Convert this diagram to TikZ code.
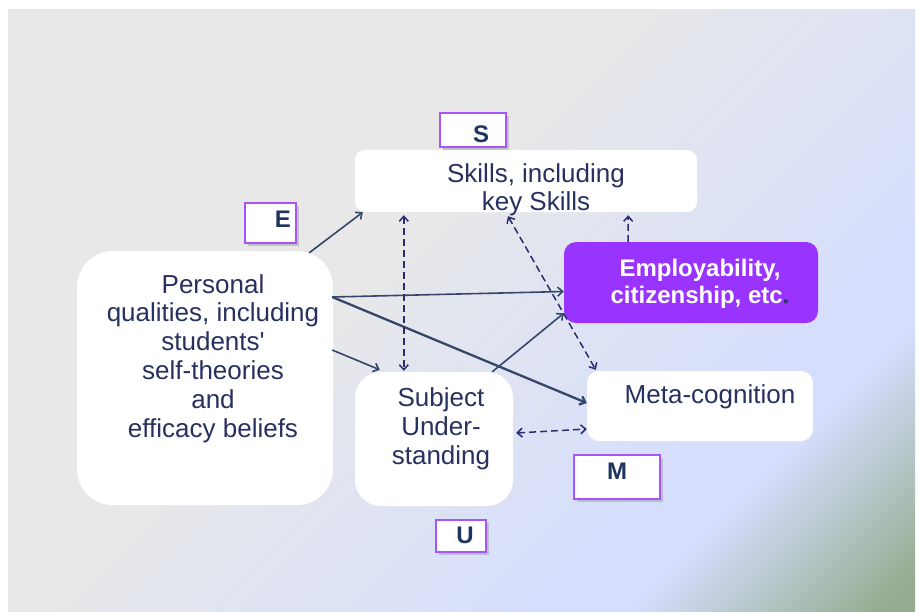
\documentclass[tikz,border=0pt]{standalone}
\usepackage{fontspec}
\setmainfont{Liberation Sans}
\usetikzlibrary{arrows.meta,shadows}
\definecolor{bgA}{HTML}{E8E8E9}
\definecolor{bgB}{HTML}{D5DEFD}
\definecolor{bgC}{HTML}{96AB90}
\definecolor{txt}{HTML}{283060}
\definecolor{lblt}{HTML}{1F3560}
\definecolor{arrc}{HTML}{34476A}
\definecolor{dsh}{HTML}{2A2C6E}
\definecolor{purp}{HTML}{9933FF}
\definecolor{lblb}{HTML}{A855F7}
\pgfdeclarehorizontalshading{bgsh}{100bp}{color(0bp)=(bgA); color(44bp)=(bgA); color(68bp)=(bgB); color(72bp)=(bgB); color(84bp)=(bgC); color(100bp)=(bgC)}
\begin{document}
\begin{tikzpicture}[x=1pt,y=-1pt,
  box/.style={fill=white, draw=none, inner sep=0pt},
  lbox/.style={fill=white, draw=lblb, line width=1.8pt, inner sep=0pt,
    drop shadow={shadow xshift=2.5pt, shadow yshift=-2.5pt, opacity=0.35}},
  lbl/.style={font=\fontsize{24}{28}\selectfont\bfseries, text=lblt, inner sep=0pt},
  body/.style={font=\fontsize{26}{28.8}\selectfont, text=txt, align=center, inner sep=0pt, anchor=base},
  sarr/.style={draw=arrc, line width=1.6pt, -{Straight Barb[length=5pt,width=9pt]}},
  darr/.style={draw=dsh, line width=1.5pt, dash pattern=on 7pt off 4pt},
  btip/.tip={Straight Barb[length=5pt,width=9pt]}
]
\useasboundingbox (0,0) rectangle (923,611);
\fill[white] (0,0) rectangle (923,611);
\shade[shading=bgsh, shading angle=-45] (8,9) rectangle (915,611);

% main boxes
\node[box, minimum width=256pt, minimum height=254pt, rounded corners=36pt] (pers) at (205,378) {};
\node[box, minimum width=342pt, minimum height=62pt, rounded corners=10pt] (skills) at (526,181) {};
\node[box, fill=purp, minimum width=254pt, minimum height=81pt, rounded corners=12pt] (employ) at (691,282.5) {};
\node[box, minimum width=226pt, minimum height=70pt, rounded corners=12pt] (meta) at (700,406) {};
\node[box, minimum width=158pt, minimum height=134pt, rounded corners=26pt] (subj) at (434,439) {};

% texts (anchor = baseline of last line)
\node[body] (perst) at (213,437) {Personal\\qualities, including\\students\textquotesingle\\self-theories\\and\\efficacy beliefs};
\node[body, font=\fontsize{26}{28}\selectfont] (skillst) at (536,210) {Skills, including\\key Skills};
\node[body, font=\fontsize{24}{27}\selectfont\bfseries, text=white] (employt) at (700,303) {Employability,\\citizenship, etc\textcolor{txt}{.}};
\node[body] (metat) at (710,403) {Meta-cognition};
\node[body] (subjt) at (441,464.5) {Subject\\Under-\\standing};

% label boxes
\node[lbox, minimum width=66pt, minimum height=34pt] (sbox) at (473,130) {};
\node[lbl] (slbl) at (481,134) {S};
\node[lbox, minimum width=51pt, minimum height=40pt] (ebox) at (270.5,223) {};
\node[lbl] (elbl) at (283,219) {E};
\node[lbox, minimum width=86pt, minimum height=44pt] (mbox) at (617,477) {};
\node[lbl] (mlbl) at (617,471) {M};
\node[lbox, minimum width=50pt, minimum height=32pt] (ubox) at (461,536) {};
\node[lbl] (ulbl) at (465,535) {U};

% solid arrows
\draw[sarr] ([xshift=-24pt,yshift=-2pt]pers.north east) -- ([xshift=8pt]skills.south west);
\draw[sarr] ([xshift=-1pt,yshift=81pt]pers.east) -- ([yshift=-9pt]employ.west);
\draw[sarr, line width=2.3pt] ([xshift=-1pt,yshift=81pt]pers.east) -- ([yshift=3pt]meta.west);
\draw[sarr] ([xshift=-1pt,yshift=28pt]pers.east) -- ([xshift=25pt,yshift=2pt]subj.north west);
\draw[sarr] ([xshift=-21pt]subj.north east) -- ([yshift=10pt]employ.south west);

% dashed arrows
\draw[darr, btip-btip] ([xshift=49pt,yshift=-3pt]skills.south west) -- ([xshift=49pt,yshift=1pt]subj.north west);
\draw[darr, btip-btip] ([xshift=-18pt,yshift=-4pt]skills.south) -- ([xshift=9pt,yshift=1pt]meta.north west);
\draw[darr, -btip] ([xshift=-63pt]employ.north) -- ([xshift=-69pt,yshift=-3pt]skills.south east);
\draw[darr, btip-btip] ([xshift=3pt,yshift=6pt]subj.east) -- ([yshift=-23pt]meta.west);
\end{tikzpicture}
\end{document}
